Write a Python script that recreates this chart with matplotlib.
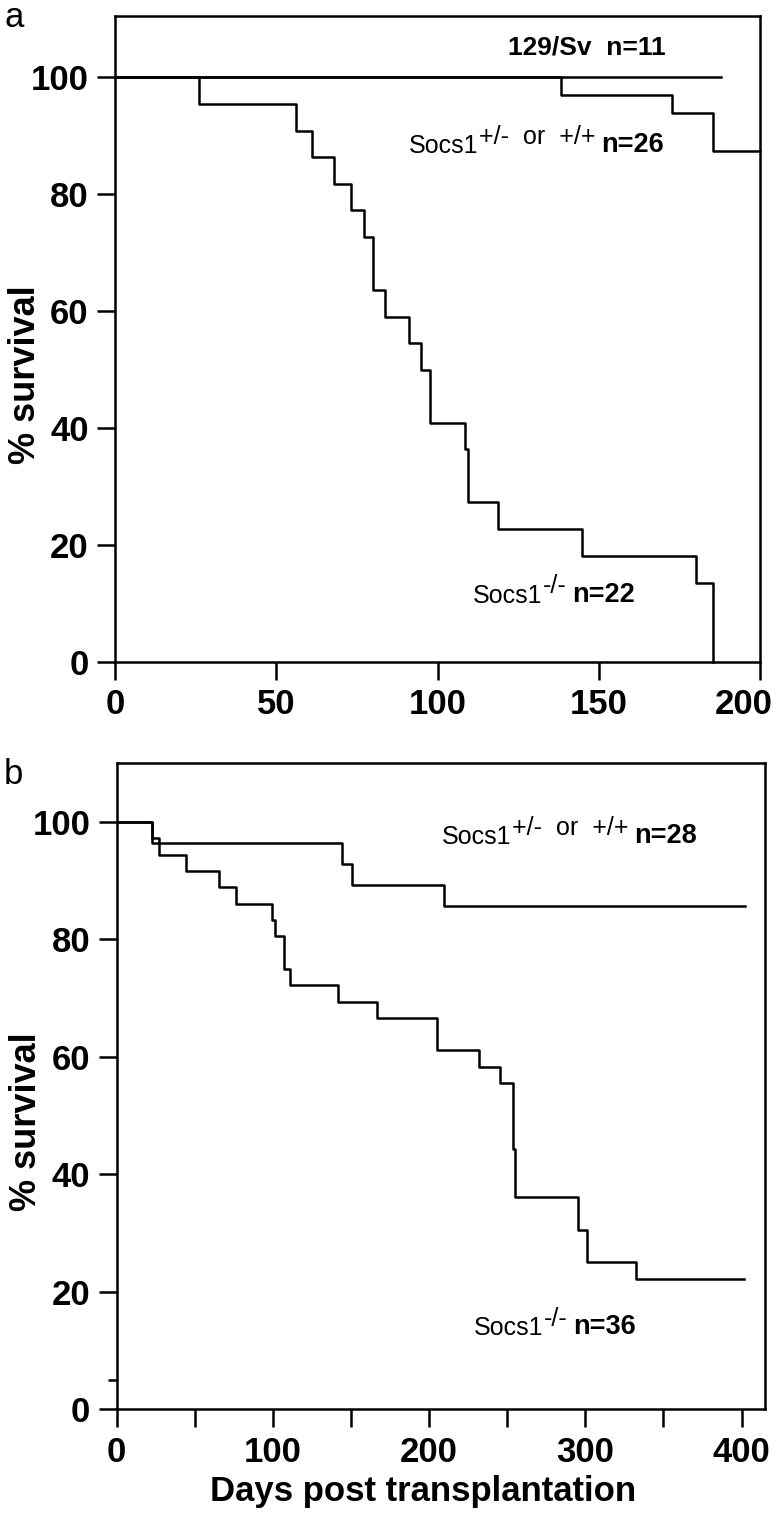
import matplotlib
matplotlib.use("Agg")
import matplotlib.pyplot as plt
import matplotlib.transforms as mtransforms

plt.rcParams['font.family'] = ['Liberation Sans', 'DejaVu Sans']

# ---------------- data ----------------
# Panel a (days, % survival; step after each time)
a_wt_days = [0, 187.8]
a_wt_surv = [100, 100]
a_het_days = [0, 138.3, 172.7, 185.5, 200]
a_het_surv = [100, 97.0, 94.0, 87.5, 87.5]
a_ko_days = [0, 26, 56, 61, 68, 73.3, 77.2, 80, 83.7, 91.1, 94.9, 97.7,
             108.5, 109.6, 118.8, 144.8, 180, 185.5]
a_ko_surv = [100, 95.5, 90.9, 86.4, 81.8, 77.3, 72.7, 63.6, 59.1, 54.5, 50.0,
             40.9, 36.4, 27.3, 22.7, 18.2, 13.6, 0]

# Panel b
b_het_days = [0, 23, 144, 150.4, 209.3, 402]
b_het_surv = [100, 96.4, 92.9, 89.3, 85.7, 85.7]
b_ko_days = [0, 23, 27, 44.5, 65.3, 76.5, 99.8, 101.5, 107.2, 111, 142, 166.8,
             205.1, 232.2, 245.6, 253.4, 255.3, 295.6, 301.3, 332.5, 401.3]
b_ko_surv = [100, 97.2, 94.4, 91.7, 88.9, 86.1, 83.3, 80.6, 75.0, 72.2, 69.4,
             66.7, 61.1, 58.3, 55.6, 44.4, 36.1, 30.6, 25.0, 22.2, 22.2]

a_xticks = [0, 50, 100, 150, 200]
b_xticks = [0, 100, 200, 300, 400]
b_xminor = [50, 150, 250, 350]
y_ticks = [0, 20, 40, 60, 80, 100]
b_yminor = [5]

# ---------------- figure ----------------
fig = plt.figure(figsize=(7.8, 15.16), dpi=100)
axa = fig.add_axes([0.1474, 0.5633, 0.827, 0.4261])
axb = fig.add_axes([0.1494, 0.0704, 0.8314, 0.4261])

LW = 1.8
TFS = 25

for ax in (axa, axb):
    for s in ax.spines.values():
        s.set_linewidth(LW)
    ax.tick_params(which='major', direction='out', width=LW, length=13, pad=6)
    ax.tick_params(which='minor', direction='out', width=LW, length=13)
    ax.set_yticks(y_ticks, [str(v) for v in y_ticks], fontsize=TFS, fontweight='bold')
    ax.set_ylabel('% survival', fontsize=26, fontweight='bold')
    ax.yaxis.set_label_coords(-0.112, 0.445)

# panel a
axa.step(a_wt_days, a_wt_surv, where='post', color='black', lw=LW, clip_on=False)
axa.step(a_het_days, a_het_surv, where='post', color='black', lw=LW, clip_on=False)
axa.step(a_ko_days, a_ko_surv, where='post', color='black', lw=LW, clip_on=False)
axa.set_xlim(0, 200)
axa.set_ylim(0, 110.5)
axa.set_xticks(a_xticks, [str(v) for v in a_xticks], fontsize=TFS, fontweight='bold')
# last label nudged left so it stays inside the figure, as in the original
last = axa.get_xticklabels()[-1]
last.set_transform(last.get_transform() +
                   mtransforms.ScaledTranslation(-16 / 100, 0, fig.dpi_scale_trans))

# panel b
axb.step(b_het_days, b_het_surv, where='post', color='black', lw=LW)
axb.step(b_ko_days, b_ko_surv, where='post', color='black', lw=LW)
axb.set_xlim(0, 415)
axb.set_ylim(0, 110)
axb.set_xticks(b_xticks, [str(v) for v in b_xticks], fontsize=TFS, fontweight='bold')
axb.set_xticks(b_xminor, minor=True)
axb.set_yticks(b_yminor, minor=True)
axb.tick_params(axis='y', which='minor', length=6.5)
axb.set_xlabel('Days post transplantation', fontsize=25, fontweight='bold')
axb.xaxis.set_label_coords(0.473, -0.102)


def socs_label(ax, x, y, sup, n, fs=18):
    t1 = ax.text(x, y, 'Socs1', fontsize=fs, ha='left', va='baseline')
    t2 = ax.annotate(sup, xy=(1, 0), xycoords=t1, xytext=(0.5, 7),
                     textcoords='offset points', fontsize=fs, ha='left', va='bottom')
    ax.annotate(n, xy=(1, 0), xycoords=t2, xytext=(4, -7),
                textcoords='offset points', fontsize=fs + 1.5, fontweight='bold',
                ha='left', va='bottom')


axa.text(122, 104.0, '129/Sv  n=11', fontsize=19, fontweight='bold', ha='left', va='baseline')
socs_label(axa, 91.1, 87.0, '+/-  or  +/+', 'n=26')
socs_label(axa, 111, 10.1, '-/-', 'n=22')
socs_label(axb, 208, 96.2, '+/-  or  +/+', 'n=28')
socs_label(axb, 228.8, 12.6, '-/-', 'n=36')

fig.text(4 / 780, 1 - 27 / 1516, 'a', fontsize=25, ha='left', va='baseline')
fig.text(4 / 780, 1 - 784 / 1516, 'b', fontsize=25, ha='left', va='baseline')

fig.savefig('out.png', dpi=100)
